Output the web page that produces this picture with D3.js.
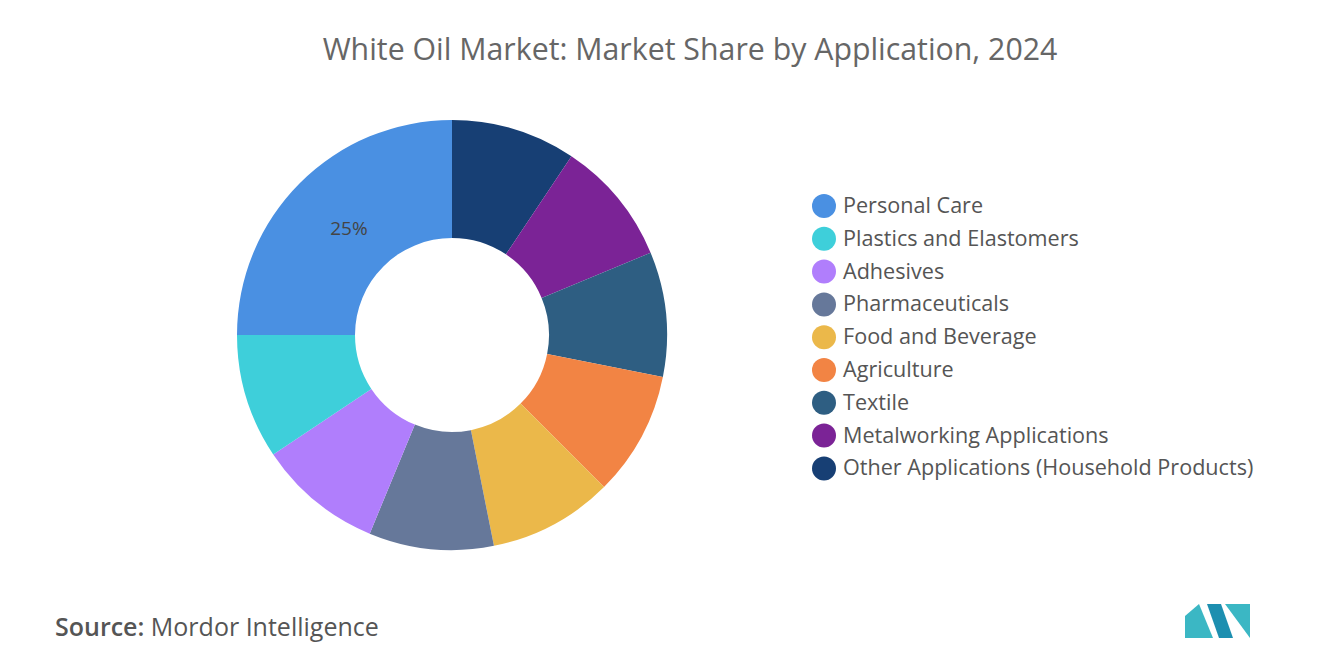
<!DOCTYPE html>
<html><head><meta charset="utf-8">
<script src="https://cdn.jsdelivr.net/npm/d3@7"></script>
<style>body{margin:0;background:#fff;font-family:"Open Sans",Lato,sans-serif;}</style>
</head><body>
<script>
// data, in clockwise order starting at 12 o'clock
const categories = ["Other Applications (Household Products)", "Metalworking Applications", "Textile", "Agriculture",
  "Food and Beverage", "Pharmaceuticals", "Adhesives", "Plastics and Elastomers", "Personal Care"];
const shares = [9.375, 9.375, 9.375, 9.375, 9.375, 9.375, 9.375, 9.375, 25];
const colors = ["#173f74", "#7b2396", "#2e5e82", "#f28444", "#ebb84a", "#66789a", "#b07efc", "#3ecfda", "#4a90e2"];
const legendOrder = ["Personal Care", "Plastics and Elastomers", "Adhesives", "Pharmaceuticals", "Food and Beverage",
  "Agriculture", "Textile", "Metalworking Applications", "Other Applications (Household Products)"];

const width = 1320, height = 665;
const svg = d3.select("body").append("svg").attr("width", width).attr("height", height);

svg.append("text").attr("x", 690).attr("y", 60).attr("text-anchor", "middle")
  .attr("font-size", 30.3).attr("fill", "#666").text("White Oil Market: Market Share by Application, 2024");

const color = d3.scaleOrdinal().domain(categories).range(colors);
const pie = d3.pie().sort(null).value(d => d.v);
const data = categories.map((c, i) => ({c, v: shares[i]}));
const arc = d3.arc().innerRadius(97).outerRadius(215);

const g = svg.append("g").attr("transform", "translate(452,335)");
const arcs = pie(data);
g.selectAll("path").data(arcs).enter().append("path")
  .attr("d", arc).attr("fill", d => color(d.data.c));

// label for the largest slice
const big = arcs.find(d => d.data.v === d3.max(shares));
const lab = d3.arc().innerRadius(150).outerRadius(150).centroid(big);
g.append("text").attr("x", lab[0] + 3).attr("y", lab[1] + 6).attr("text-anchor", "middle")
  .attr("font-size", 19).attr("fill", "#444").text(d3.max(shares) + "%");

// legend
const legend = svg.append("g").attr("transform", "translate(824,206)");
const items = legend.selectAll("g").data(legendOrder).enter().append("g")
  .attr("transform", (d, i) => `translate(0,${i * 32.8})`);
items.append("circle").attr("r", 12).attr("fill", d => color(d));
items.append("text").attr("x", 19).attr("y", 7).attr("font-size", 21.6).attr("fill", "#555").text(d => d);

// source
const src = svg.append("text").attr("x", 55).attr("y", 636).attr("font-size", 25).attr("fill", "#555");
src.append("tspan").attr("font-weight", 600).text("Source:");
src.append("tspan").text("  Mordor Intelligence");

// logo
const logo = svg.append("g").attr("transform", "translate(1185,604)");
logo.append("path").attr("d", "M0,34 L0,12 L14,0 L28,34 Z").attr("fill", "#3bb7c4");
logo.append("path").attr("d", "M22,0 L36,0 L48,34 L34,34 Z").attr("fill", "#1d8fb0");
logo.append("path").attr("d", "M40,0 L65,0 L65,34 Z").attr("fill", "#3bb7c4");
</script>
</body></html>
